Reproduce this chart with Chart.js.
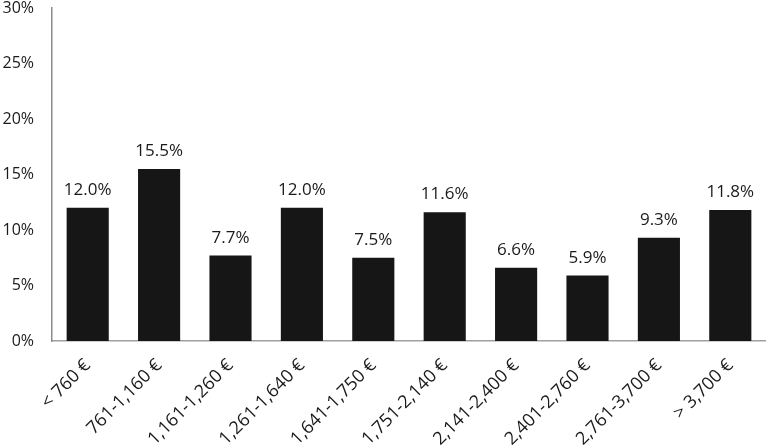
<!DOCTYPE html>
<html>
<head>
<meta charset="utf-8">
<script src="https://cdn.jsdelivr.net/npm/chart.js@4"></script>
<style>
  html, body { margin: 0; padding: 0; background: #fff; }
  #wrap { width: 766px; height: 447px; }
</style>
</head>
<body>
<div id="wrap"><canvas id="incomeChart"></canvas></div>
<script>
const categories = ['< 760 €', '761-1,160 €', '1,161-1,260 €', '1,261-1,640 €', '1,641-1,750 €',
  '1,751-2,140 €', '2,141-2,400 €', '2,401-2,760 €', '2,761-3,700 €', '> 3,700 €'];
const shares = [12.0, 15.5, 7.7, 12.0, 7.5, 11.6, 6.6, 5.9, 9.3, 11.8];
const yTicks = [0, 5, 10, 15, 20, 25, 30];

const fontFamily = "'Open Sans', 'Liberation Sans', sans-serif";

// draws the value above each bar
const valueLabels = {
  id: 'valueLabels',
  afterDatasetsDraw(chart) {
    const ctx = chart.ctx;
    const meta = chart.getDatasetMeta(0);
    ctx.save();
    ctx.fillStyle = '#1a1a1a';
    ctx.font = '17px ' + fontFamily;
    ctx.textAlign = 'center';
    ctx.textBaseline = 'alphabetic';
    meta.data.forEach((bar, i) => {
      ctx.fillText(shares[i].toFixed(1) + '%', bar.x, bar.y - 13);
    });
    ctx.restore();
  }
};

const ctx = document.getElementById('incomeChart').getContext('2d');
new Chart(ctx, {
  type: 'bar',
  data: {
    labels: categories,
    datasets: [{
      data: shares,
      backgroundColor: '#161616',
      borderWidth: 0,
      categoryPercentage: 1,
      barPercentage: 0.59
    }]
  },
  options: {
    responsive: true,
    maintainAspectRatio: false,
    animation: false,
    layout: { padding: { top: 8, right: 0, left: 0, bottom: 0 } },
    plugins: { legend: { display: false }, tooltip: { enabled: false } },
    scales: {
      x: {
        grid: { display: false, drawTicks: false },
        border: { display: true, color: '#a0a0a0', width: 1.5 },
        ticks: {
          color: '#1a1a1a',
          font: { family: fontFamily, size: 18 },
          minRotation: 45,
          maxRotation: 45,
          padding: 14
        },
        afterFit: s => { s.height = 106; s.paddingLeft = 0; s.paddingRight = 0; }
      },
      y: {
        min: 0,
        max: 30,
        afterBuildTicks: axis => { axis.ticks = yTicks.map(v => ({ value: v })); },
        grid: { display: false, drawTicks: false },
        border: { display: true, color: '#8c8c8c', width: 1.5 },
        ticks: {
          color: '#1a1a1a',
          font: { family: fontFamily, size: 16 },
          padding: 18,
          callback: v => v + '%'
        },
        afterFit: s => { s.width = 52; s.paddingTop = 0; s.paddingBottom = 0; }
      }
    }
  },
  plugins: [valueLabels]
});
</script>
</body>
</html>
